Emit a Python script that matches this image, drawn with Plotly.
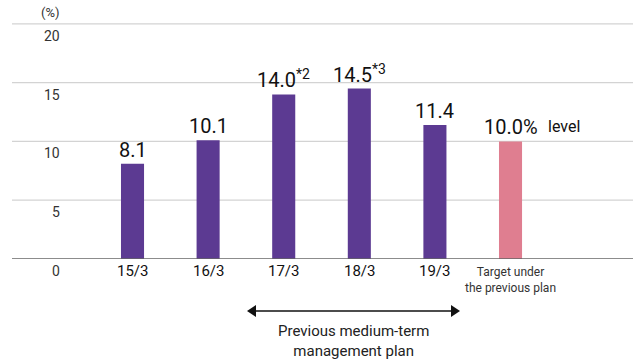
import plotly.graph_objects as go

# Data
categories = ["15/3", "16/3", "17/3", "18/3", "19/3", "Target under<br>the previous plan"]
values = [8.1, 10.1, 14.0, 14.5, 11.4, 10.0]
value_labels = ["8.1", "10.1", "14.0<sup>*2</sup>", "14.5<sup>*3</sup>", "11.4", "10.0%"]
bar_colors = ["#5c3a92"] * 5 + ["#df7e90"]
y_ticks = [0, 5, 10, 15, 20]

W, H = 633, 360
L, R, T, B = 12, 0, 18, 101
X0, X1 = -1.594, 6.62
Y0, Y1 = 0, 20.5

def py(pixel_y):
    """Pixel row -> paper y."""
    return (H - B - pixel_y) / (H - B - T)

def px(pixel_x):
    """Pixel column -> paper x."""
    return (pixel_x - L) / (W - L - R)

def dx(pixel_x):
    """Pixel column -> data x."""
    return X0 + px(pixel_x) * (X1 - X0)

unit = (H - B - T) / (Y1 - Y0)

xs = list(range(len(categories)))
font = "Roboto, Arial, sans-serif"

fig = go.Figure(go.Bar(
    x=xs, y=values, width=0.305, marker=dict(color=bar_colors, line=dict(width=0)),
    hoverinfo="skip",
))

ann = []
# value labels above the bars
for x, v, t in zip(xs, values, value_labels):
    ann.append(dict(x=x, y=v, xref="x", yref="y", text=t, showarrow=False,
                    xanchor="center", yanchor="bottom", yshift=0,
                    font=dict(family=font, size=20, color="#111")))
ann.append(dict(x=dx(546), y=values[-1], xref="x", yref="y", text="level", showarrow=False,
                xanchor="left", yanchor="bottom", yshift=3,
                font=dict(family=font, size=16, color="#111")))

# category labels
for x, c in zip(xs[:5], categories[:5]):
    ann.append(dict(x=x, y=py(271), xref="x", yref="paper", text=c, showarrow=False,
                    xanchor="center", yanchor="middle",
                    font=dict(family=font, size=15, color="#111")))
ann.append(dict(x=xs[5], y=py(280), xref="x", yref="paper", text=categories[5], showarrow=False,
                xanchor="center", yanchor="middle",
                font=dict(family="Liberation Sans Narrow, Roboto, sans-serif", size=12, color="#333")))

# y tick labels sit just below each gridline
for t in y_ticks:
    ann.append(dict(x=px(62), y=py(H - B - t * unit + 12), xref="paper", yref="paper",
                    text=str(t), showarrow=False, xanchor="right", yanchor="middle",
                    font=dict(family=font, size=14, color="#333")))

ann.append(dict(x=px(50), y=py(12), xref="paper", yref="paper", text="(%)",
                showarrow=False, xanchor="center", yanchor="middle",
                font=dict(family=font, size=13, color="#333")))

# plan period caption
ann.append(dict(x=dx(353), y=py(341), xref="x", yref="paper",
                text="Previous medium-term<br>management plan", showarrow=False,
                xanchor="center", yanchor="middle",
                font=dict(family=font, size=15, color="#222")))

# horizontal gridlines
shapes = [dict(type="line", xref="paper", yref="y", x0=0, x1=1, y0=t, y1=t, layer="below",
               line=dict(color="#d3d3d3", width=1.3)) for t in y_ticks[1:]]
shapes += [
    dict(type="line", xref="paper", yref="y", x0=0, x1=1, y0=0, y1=0,
         line=dict(color="#666", width=1.6)),
    dict(type="line", xref="x", yref="paper", x0=dx(252), x1=dx(455), y0=py(311), y1=py(311),
         line=dict(color="#111", width=1.5)),
    dict(type="path", xref="x", yref="paper",
         path=f"M {dx(247)} {py(311)} L {dx(256)} {py(305)} L {dx(256)} {py(317)} Z",
         fillcolor="#111", line=dict(width=0)),
    dict(type="path", xref="x", yref="paper",
         path=f"M {dx(460)} {py(311)} L {dx(451)} {py(305)} L {dx(451)} {py(317)} Z",
         fillcolor="#111", line=dict(width=0)),
]

fig.update_layout(
    width=W, height=H, margin=dict(l=L, r=R, t=T, b=B),
    paper_bgcolor="white", plot_bgcolor="white", showlegend=False,
    xaxis=dict(range=[X0, X1], showgrid=False, zeroline=False, showticklabels=False,
               showline=False, fixedrange=True),
    yaxis=dict(range=[Y0, Y1], showticklabels=False, showgrid=False,
               zeroline=False, showline=False, fixedrange=True),
    annotations=ann, shapes=shapes,
)
fig.update_traces(cliponaxis=False)

fig.write_html("out.html", config={"displayModeBar": False})
